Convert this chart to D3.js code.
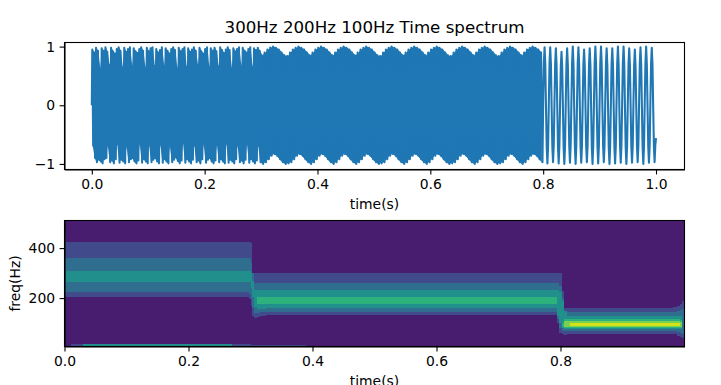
<!DOCTYPE html>
<html>
<head>
<meta charset="utf-8">
<script src="https://cdn.jsdelivr.net/npm/d3@7"></script>
<style>
  html, body { margin: 0; padding: 0; background: #fff; overflow: hidden; }
  text { font-family: "DejaVu Sans", sans-serif; fill: #000; }
  .axis text { font-size: 13.9px; }
  .axis line, .axis path { stroke: #000; stroke-width: 1.1px; }
</style>
</head>
<body>
<div class="canvas"></div>
<script>
const chartTitle = "300Hz 200Hz 100Hz Time spectrum";
const xLabel = "time(s)";
const freqLabel = "freq(Hz)";
const timeTicks = [0, 0.2, 0.4, 0.6, 0.8, 1.0];
const specTimeTicks = [0, 0.2, 0.4, 0.6, 0.8];
const ampTicks = [-1, 0, 1];
const freqTicks = [200, 400];

// peaks, one top + one bottom per cycle
const peaks300Top = [
  0.95, 0.90, 0.98, 0.93, 0.62, 0.97, 0.93, 0.99, 0.91, 0.68,
  0.98, 0.92, 0.88, 0.96, 0.99, 0.93, 0.64, 0.98, 0.91, 0.96,
  0.99, 0.66, 0.97, 0.92, 0.89, 0.96, 0.99, 0.93, 0.63, 0.98,
  0.92, 0.97, 0.99, 0.67, 0.96, 0.90, 0.94, 0.99, 0.66, 0.97,
  0.93, 0.88, 0.96, 0.99, 0.94, 0.62, 0.98, 0.92, 0.96, 0.99,
  0.65, 0.97, 0.91, 0.95, 0.99, 0.93, 0.68, 0.98, 0.92, 0.88,
  0.96, 0.99, 0.64, 0.97, 0.93, 0.98, 0.92, 0.66, 0.99, 0.94,
  0.89, 0.95, 0.99, 0.94, 0.63, 0.97, 0.92, 0.96, 0.99, 0.66,
  0.98, 0.93, 0.90, 0.96, 0.99, 0.65, 0.97, 0.94, 0.98, 0.93,
];
const peaks300Bottom = [
  -0.69, -0.90, -0.97, -0.93, -0.96, -0.99, -0.92, -0.90, -0.68, -0.97,
  -0.94, -0.99, -0.92, -0.66, -0.98, -0.93, -0.96, -0.99, -0.70, -0.97,
  -0.92, -0.90, -0.96, -0.99, -0.94, -0.65, -0.98, -0.92, -0.96, -0.99,
  -0.68, -0.97, -0.93, -0.90, -0.96, -0.99, -0.67, -0.98, -0.92, -0.96,
  -0.99, -0.69, -0.97, -0.93, -0.89, -0.95, -0.99, -0.94, -0.64, -0.98,
  -0.92, -0.96, -0.99, -0.93, -0.68, -0.97, -0.94, -0.99, -0.92, -0.66,
  -0.98, -0.93, -0.90, -0.96, -0.99, -0.94, -0.67, -0.97, -0.92, -0.96,
  -0.99, -0.65, -0.98, -0.93, -0.96, -0.99, -0.92, -0.68, -0.97, -0.94,
  -0.99, -0.93, -0.66, -0.98, -0.92, -0.96, -0.99, -0.94, -0.69, -0.97,
];
const peaks200Top = [
  0.85, 0.90, 0.95, 0.985, 1.00, 0.98, 0.95, 0.90, 0.85, 0.84,
  0.90, 0.95, 0.98, 1.00, 0.98, 0.95, 0.90, 0.85, 0.90, 0.95,
  0.98, 1.00, 0.98, 0.95, 0.90, 0.85, 0.90, 0.95, 0.98, 1.00,
  0.98, 0.95, 0.90, 0.85, 0.90, 0.95, 0.98, 1.00, 0.98, 0.95,
  0.90, 0.85, 0.84, 0.90, 0.95, 0.98, 1.00, 0.98, 0.95, 0.90,
  0.85, 0.90, 0.95, 0.98, 1.00, 0.98, 0.95, 0.90, 0.85, 0.90,
  0.95, 0.98, 1.00, 0.98, 0.95, 0.90, 0.85, 0.84, 0.90, 0.95,
  0.98, 1.00, 0.98, 0.95, 0.90, 0.85, 0.90, 0.95, 0.98, 1.00,
  0.98, 0.95, 0.90, 0.85, 0.84, 0.90, 0.95, 0.98, 1.00, 0.98,
  0.95, 0.90, 0.85, 0.90, 0.95, 0.98, 1.00, 0.98, 0.95, 0.90,
];
const peaks200Bottom = [
  -1.00, -0.97, -0.92, -0.86, -0.83, -0.86, -0.92, -0.97, -1.00, -0.99,
  -0.97, -0.92, -0.86, -0.83, -0.86, -0.92, -0.97, -1.00, -0.97, -0.92,
  -0.86, -0.83, -0.86, -0.92, -0.97, -1.00, -0.97, -0.92, -0.86, -0.83,
  -0.86, -0.92, -0.97, -1.00, -0.97, -0.92, -0.86, -0.83, -0.86, -0.92,
  -0.97, -1.00, -0.99, -0.97, -0.92, -0.86, -0.83, -0.86, -0.92, -0.97,
  -1.00, -0.97, -0.92, -0.86, -0.83, -0.86, -0.92, -0.97, -1.00, -0.97,
  -0.92, -0.86, -0.83, -0.86, -0.92, -0.97, -1.00, -0.99, -0.97, -0.92,
  -0.86, -0.83, -0.86, -0.92, -0.97, -1.00, -0.97, -0.92, -0.86, -0.83,
  -0.86, -0.92, -0.97, -1.00, -0.99, -0.97, -0.92, -0.86, -0.83, -0.86,
  -0.92, -0.97, -1.00, -0.97, -0.92, -0.86, -0.83, -0.86, -0.92, -0.97,
];
// the 100Hz part is wide enough to see its shape, so 8 samples per cycle
const samples100 = [
  0.03, 0.72, 0.99, 0.70, -0.03, -0.71, -0.99, -0.69,
  0.03, 0.72, 0.99, 0.70, -0.03, -0.70, -0.97, -0.68,
  0.03, 0.70, 0.97, 0.68, -0.03, -0.71, -0.99, -0.69,
  0.03, 0.66, 0.91, 0.64, -0.03, -0.72, -1.00, -0.70,
  0.03, 0.70, 0.97, 0.68, -0.03, -0.70, -0.98, -0.68,
  0.03, 0.72, 1.00, 0.70, -0.03, -0.72, -1.00, -0.70,
  0.03, 0.72, 0.99, 0.70, -0.03, -0.71, -0.98, -0.69,
  0.03, 0.68, 0.95, 0.66, -0.03, -0.70, -0.97, -0.68,
  0.03, 0.70, 0.97, 0.68, -0.03, -0.72, -1.00, -0.70,
  0.03, 0.72, 1.00, 0.70, -0.03, -0.71, -0.99, -0.69,
  0.03, 0.72, 1.00, 0.70, -0.03, -0.70, -0.97, -0.68,
  0.03, 0.70, 0.97, 0.68, -0.03, -0.72, -1.00, -0.70,
  0.03, 0.70, 0.97, 0.68, -0.03, -0.71, -0.99, -0.69,
  0.03, 0.72, 1.00, 0.70, -0.03, -0.70, -0.98, -0.68,
  0.03, 0.72, 1.00, 0.70, -0.03, -0.72, -1.00, -0.70,
  0.03, 0.70, 0.97, 0.68, -0.03, -0.71, -0.98, -0.69,
  0.03, 0.68, 0.95, 0.66, -0.03, -0.70, -0.97, -0.68,
  0.03, 0.71, 0.99, 0.69, -0.03, -0.72, -1.00, -0.70,
  0.03, 0.72, 1.00, 0.70, -0.03, -0.71, -0.98, -0.69,
  0.03, 0.71, 0.98, 0.69, -0.03, -0.70, -0.97, -0.68,
];
const lastSample = -0.56;

// spectrogram bands: time grid, then lower/upper edge in Hz of each level
const specTimes = [0, 0.003, 0.006, 0.293, 0.297, 0.3, 0.303, 0.306, 0.31, 0.316, 0.325, 0.785, 0.79, 0.794, 0.798, 0.802, 0.806, 0.81, 0.815, 0.82, 0.975, 0.982, 0.988, 0.992, 0.996, 1.0];
const level1Hi = [450, 426, 426, 426, 426, 420, 300, 300, 300, 300, 300, 300, 300, 300, 300, 230, 160, 160, 160, 160, 160, 164, 170, 178, 188, 190];
const level1Lo = [210, 204, 204, 204, 195, 170, 130, 122, 125, 130, 133, 133, 133, 100, 60, 55, 54, 55, 57, 57, 57, 55, 50, 45, 42, 40];
const level2Hi = [362, 362, 362, 362, 362, 340, 300, 262, 262, 262, 262, 262, 262, 262, 250, 200, 144, 144, 144, 144, 144, 144, 148, 152, 158, 160];
const level2Lo = [226, 226, 226, 226, 215, 195, 160, 140, 141, 143, 146, 146, 146, 115, 80, 70, 67, 68, 70, 70, 70, 69, 66, 62, 58, 55];
const level3Hi = [285, 309, 309, 309, 309, 300, 270, 233, 233, 233, 233, 233, 233, 233, 225, 190, 150, 128, 128, 128, 128, 128, 130, 130, 105, 105];
const level3Lo = [285, 264, 264, 264, 264, 240, 205, 165, 155, 158, 160, 160, 160, 130, 100, 82, 77, 76, 76, 76, 76, 76, 75, 75, 105, 105];
const level4Hi = [190, 190, 190, 190, 190, 190, 190, 190, 205, 205, 205, 205, 205, 190, 190, 100, 116, 116, 116, 116, 116, 116, 116, 112, 100, 100];
const level4Lo = [190, 190, 190, 190, 190, 190, 190, 190, 175, 177, 177, 177, 177, 190, 190, 84, 80, 80, 80, 80, 80, 80, 80, 82, 100, 100];
const level5Hi = [96, 96, 96, 96, 96, 96, 96, 96, 96, 96, 96, 96, 96, 96, 96, 96, 109, 109, 109, 109, 109, 109, 109, 105, 96, 96];
const level5Lo = [96, 96, 96, 96, 96, 96, 96, 96, 96, 96, 96, 96, 96, 96, 96, 96, 83, 83, 83, 83, 83, 83, 83, 85, 96, 96];
const level6Hi = [96, 96, 96, 96, 96, 96, 96, 96, 96, 96, 96, 96, 96, 96, 96, 96, 96, 96, 102, 102, 102, 102, 102, 96, 96, 96];
const level6Lo = [96, 96, 96, 96, 96, 96, 96, 96, 96, 96, 96, 96, 96, 96, 96, 96, 96, 96, 89, 89, 89, 89, 89, 96, 96, 96];
const levelColors = ["#414a8a", "#2f6e8e", "#21908c", "#2eb27d", "#7ad151", "#d2e21b"];
const bgColor = "#481d6f";

// thin low frequency strip along the bottom of the spectrogram
const stripTimes = [0, 0.01, 0.03, 0.27, 0.3, 0.39];
const stripLevel1 = [6.4, 15, 15, 15, 14, 6.4];
const stripLevel3 = [6.4, 6.4, 15, 6.4, 6.4, 6.4];

const dims = { width: 721, height: 385 };
const left = 64.5;
const right = 684.5;

const svg = d3
  .select(".canvas")
  .append("svg")
  .attr("width", dims.width)
  .attr("height", dims.height)
  .style("display", "block");

svg.append("defs").append("clipPath").attr("id", "specClip")
  .append("rect").attr("x", left).attr("y", 220.5).attr("width", right - left).attr("height", 126);

// top panel
const xTop = d3.scaleLinear().domain([-0.0484, 1.0505]).range([left, right]);
const yTop = d3.scaleLinear().domain([-1.095, 1.07]).range([169.5, 42.5]);

const sigTimes = [0];
const sigValues = [0];
const envelope = [];
peaks300Top.forEach((v, i) => {
  sigTimes.push((i + 0.25) / 300, (i + 0.75) / 300);
  sigValues.push(v, peaks300Bottom[i]);
  envelope.push([(i + 0.5) / 300, peaks300Bottom[i], v]);
});
peaks200Top.forEach((v, i) => {
  sigTimes.push(0.3 + (i + 0.25) / 200, 0.3 + (i + 0.75) / 200);
  sigValues.push(v, peaks200Bottom[i]);
  envelope.push([0.3 + (i + 0.5) / 200, peaks200Bottom[i], v]);
});
samples100.forEach((v, i) => {
  sigTimes.push(0.8 + i / 800);
  sigValues.push(v);
});
sigTimes.push(1.0);
sigValues.push(lastSample);

const signalLine = d3
  .line()
  .x((d, i) => xTop(sigTimes[i]))
  .y((d) => yTop(d));

// at this scale the fast cycles merge into a solid block, so fill between the peaks
const signalFill = d3
  .area()
  .x((d) => xTop(d[0]))
  .y0((d) => yTop(d[1]))
  .y1((d) => yTop(d[2]));

svg.append("path")
  .attr("d", signalFill(envelope))
  .attr("fill", "#1f77b4");

svg.append("path")
  .attr("d", signalLine(sigValues))
  .attr("fill", "none")
  .attr("stroke", "#1f77b4")
  .attr("stroke-width", 2.08)
  .attr("stroke-linejoin", "round");

const drawAxes = (x, y, xVals, yVals, top, bottom) => {
  const xAxis = d3.axisBottom(x).tickValues(xVals).tickFormat(d3.format(".1f")).tickSize(4.9).tickSizeOuter(0).tickPadding(4.5);
  const yAxis = d3.axisLeft(y).tickValues(yVals).tickFormat(d3.format("d")).tickSize(4.9).tickSizeOuter(0).tickPadding(4.5);
  svg.append("g").attr("class", "axis").attr("transform", `translate(0,${bottom})`).call(xAxis);
  svg.append("g").attr("class", "axis").attr("transform", `translate(${left},0)`).call(yAxis);
  svg.append("rect")
    .attr("x", left).attr("y", top)
    .attr("width", right - left).attr("height", bottom - top)
    .attr("fill", "none").attr("stroke", "#000").attr("stroke-width", 1.1);
  svg.selectAll(".axis text").attr("font-family", "DejaVu Sans");
};

drawAxes(xTop, yTop, timeTicks, ampTicks, 42.5, 169.5);

// bottom panel
const xSpec = d3.scaleLinear().domain([0, 1.0]).range([left, right]);
const ySpec = d3.scaleLinear().domain([6.4, 510.4]).range([346.5, 220.5]);

const specGroup = svg.append("g").attr("clip-path", "url(#specClip)");
specGroup.append("rect")
  .attr("x", left).attr("y", 220.5)
  .attr("width", right - left).attr("height", 126)
  .attr("fill", bgColor);

const band = d3
  .area()
  .curve(d3.curveStepAfter)
  .x((d) => xSpec(d[0]))
  .y0((d) => ySpec(d[1]))
  .y1((d) => ySpec(d[2]));

[
  [level1Lo, level1Hi],
  [level2Lo, level2Hi],
  [level3Lo, level3Hi],
  [level4Lo, level4Hi],
  [level5Lo, level5Hi],
  [level6Lo, level6Hi],
].forEach(([lo, hi], k) => {
  specGroup.append("path")
    .attr("d", band(specTimes.map((t, i) => [t, lo[i], hi[i]])))
    .attr("fill", levelColors[k])
    .attr("shape-rendering", "crispEdges");
});

[[stripLevel1, levelColors[0]], [stripLevel3, levelColors[2]]].forEach(([vals, color]) => {
  specGroup.append("path")
    .attr("d", band(stripTimes.map((t, i) => [t, 6.4, vals[i]])))
    .attr("fill", color)
    .attr("shape-rendering", "crispEdges");
});

drawAxes(xSpec, ySpec, specTimeTicks, freqTicks, 220.5, 346.5);

// titles
svg.append("text")
  .attr("x", 374.5).attr("y", 33)
  .attr("text-anchor", "middle")
  .style("font-size", "16.67px")
  .text(chartTitle);

svg.append("text")
  .attr("x", 374.5).attr("y", 209)
  .attr("text-anchor", "middle")
  .style("font-size", "13.9px")
  .text(xLabel);

svg.append("text")
  .attr("x", 374.5).attr("y", 386)
  .attr("text-anchor", "middle")
  .style("font-size", "13.9px")
  .text(xLabel);

svg.append("text")
  .attr("transform", "translate(20,283.5) rotate(-90)")
  .attr("text-anchor", "middle")
  .style("font-size", "13.9px")
  .text(freqLabel);
</script>
</body>
</html>
